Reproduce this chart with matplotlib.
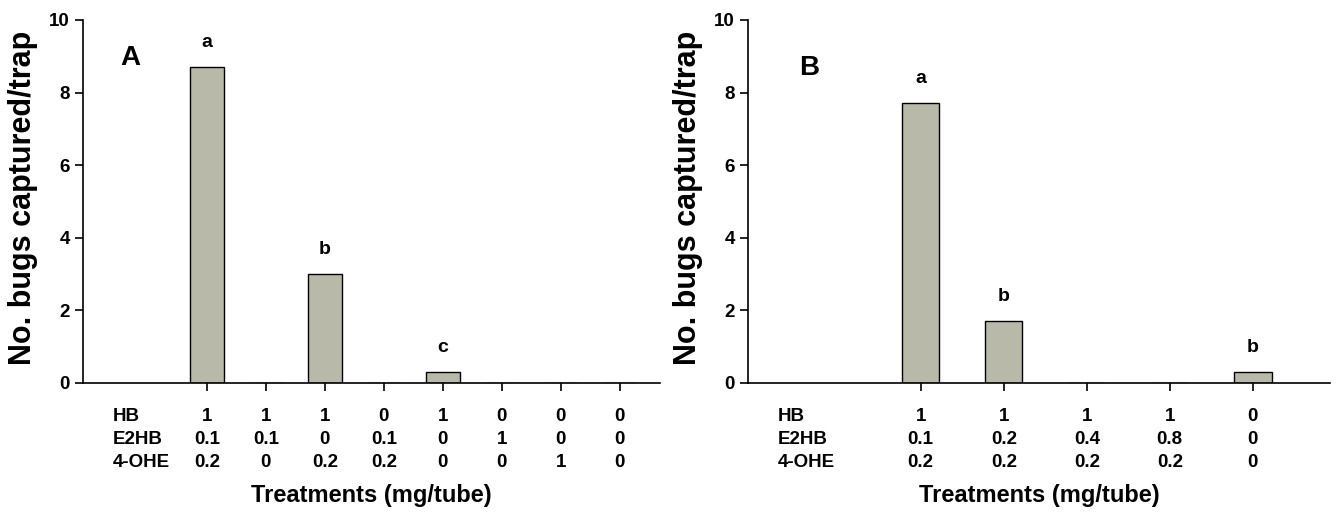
import matplotlib.pyplot as plt
import matplotlib.transforms as mtransforms
import numpy as np

plt.rcParams['font.family'] = ['Liberation Sans', 'DejaVu Sans']
plt.rcParams['font.weight'] = 'bold'

# panel A
a_values = [8.7, 0, 3.0, 0, 0.3, 0, 0, 0]
a_letters = ['a', '', 'b', '', 'c', '', '', '']
a_hb = ['1', '1', '1', '0', '1', '0', '0', '0']
a_e2hb = ['0.1', '0.1', '0', '0.1', '0', '1', '0', '0']
a_ohe = ['0.2', '0', '0.2', '0.2', '0', '0', '1', '0']

# panel B
b_values = [7.7, 1.7, 0, 0, 0.3]
b_letters = ['a', 'b', '', '', 'b']
b_hb = ['1', '1', '1', '1', '0']
b_e2hb = ['0.1', '0.2', '0.4', '0.8', '0']
b_ohe = ['0.2', '0.2', '0.2', '0.2', '0']

row_names = ['HB', 'E2HB', '4-OHE']
bar_color = '#b9b9aa'

fig = plt.figure(figsize=(13.42, 5.12), dpi=100)
axA = fig.add_axes([0.0618, 0.252, 0.430, 0.709])
axB = fig.add_axes([0.5574, 0.252, 0.4337, 0.709])


def draw_panel(ax, values, letters, rows, xlim, width, tag, name_x, tag_pos):
    x = np.arange(len(values))
    ax.bar(x, values, width=width, color=bar_color, edgecolor='black', linewidth=1)
    for xi, v, s in zip(x, values, letters):
        if s:
            ax.text(xi, v + 0.45, s, ha='center', va='bottom', fontsize=14)
    ax.set_xlim(*xlim)
    ax.set_ylim(0, 10)
    ax.set_yticks([0, 2, 4, 6, 8, 10])
    ax.set_xticks(x)
    ax.set_xticklabels([])
    ax.tick_params(axis='both', direction='out', length=6, width=1.2, labelsize=13.5)
    for lab in ax.get_yticklabels():
        lab.set_fontweight('bold')
    ax.spines['top'].set_visible(False)
    ax.spines['right'].set_visible(False)
    ax.spines['left'].set_linewidth(1.2)
    ax.spines['bottom'].set_linewidth(1.2)
    trans = mtransforms.blended_transform_factory(ax.transData, ax.transAxes)
    row_y = [-0.092, -0.156, -0.219]
    for ry, name, vals in zip(row_y, row_names, rows):
        ax.text(name_x, ry, name, transform=trans, ha='left', va='center', fontsize=13.5)
        for xi, s in zip(x, vals):
            ax.text(xi, ry, s, transform=trans, ha='center', va='center', fontsize=13.5)
    ax.text(0.5, -0.31, 'Treatments (mg/tube)', transform=ax.transAxes,
            ha='center', va='center', fontsize=17)
    ax.text(tag_pos[0], tag_pos[1], tag, transform=ax.transAxes,
            ha='left', va='center', fontsize=20)
    ax.set_ylabel('No. bugs captured/trap', fontsize=22, fontweight='bold')
    ax.yaxis.set_label_coords(-0.078, 0.51)


draw_panel(axA, a_values, a_letters, [a_hb, a_e2hb, a_ohe], (-2.1, 7.68), 0.58,
           'A', -1.6, (0.065, 0.895))
draw_panel(axB, b_values, b_letters, [b_hb, b_e2hb, b_ohe], (-2.08, 4.93), 0.45,
           'B', -1.72, (0.087, 0.868))

fig.savefig('out.png', dpi=100)
